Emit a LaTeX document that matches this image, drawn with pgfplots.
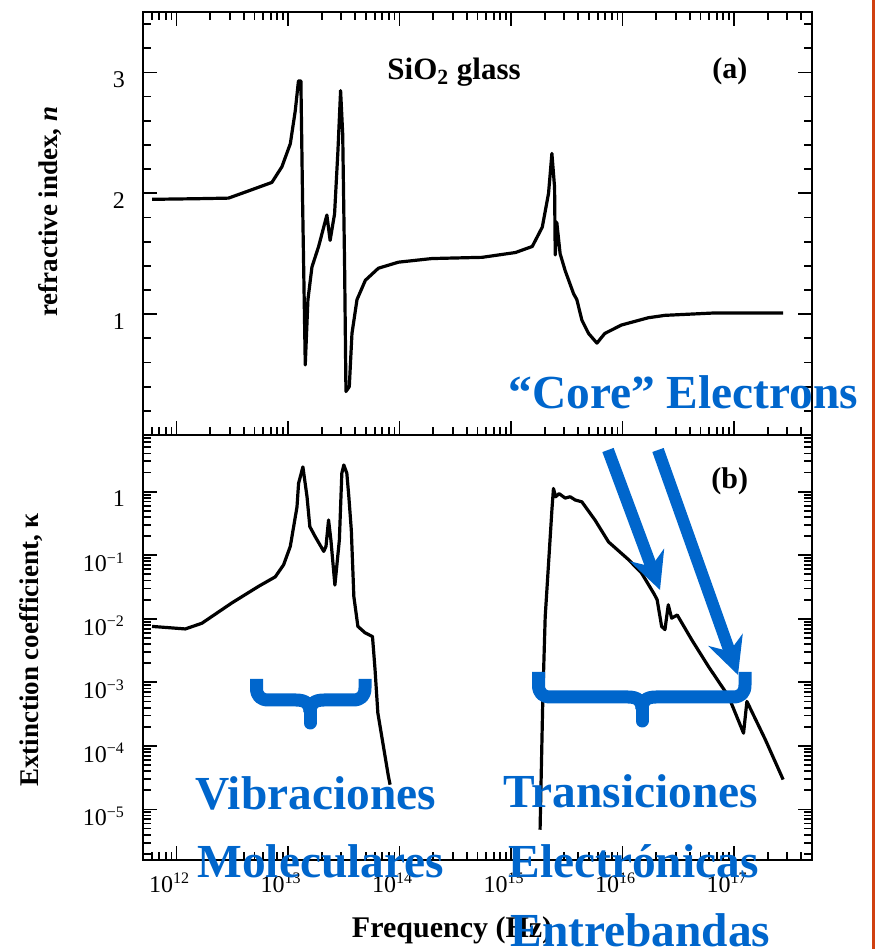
\documentclass[border=0pt]{standalone}
\usepackage{fontspec}
\setmainfont{Liberation Serif}
\usepackage{pgfplots}
\usepackage{pgfplotstable}
\pgfplotsset{compat=1.18}
\usetikzlibrary{arrows.meta}

\definecolor{annblue}{RGB}{0,102,204}
\definecolor{slideframe}{RGB}{208,64,16}

% refractive index n of SiO2 glass
\pgfplotstableread{
f n
6.03e11 1.95
1.5e12 1.955
2.92e12 1.96
4.43e12 2.02
7.16e12 2.09
8.81e12 2.22
1.047e13 2.41
1.159e13 2.68
1.239e13 2.93
1.303e13 2.93
1.349e13 1.94
1.426e13 0.58
1.507e13 1.12
1.637e13 1.39
1.879e13 1.56
2.228e13 1.82
2.382e13 1.61
2.612e13 1.83
2.799e13 2.35
2.958e13 2.85
3.090e13 2.49
3.214e13 1.39
3.304e13 0.36
3.540e13 0.40
3.741e13 0.84
4.150e13 1.12
4.932e13 1.28
6.457e13 1.38
9.772e13 1.43
1.950e14 1.46
5.495e14 1.47
1.096e15 1.51
1.549e15 1.56
1.905e15 1.72
2.168e15 2.00
2.323e15 2.33
2.455e15 2.05
2.489e15 1.49
2.570e15 1.76
2.754e15 1.50
3.055e15 1.36
3.631e15 1.17
3.890e15 1.12
4.315e15 0.95
4.955e15 0.84
5.888e15 0.76
6.918e15 0.84
9.772e15 0.91
1.698e16 0.97
2.399e16 0.99
6.761e16 1.01
2.754e17 1.01
}\refindex

% extinction coefficient, vibrational band
\pgfplotstableread{
f k
6.03e11 7.59e-3
1.197e12 6.92e-3
1.687e12 8.51e-3
3.133e12 1.778e-2
5.433e12 3.236e-2
7.674e12 4.571e-2
9.12e12 7.079e-2
1.047e13 0.138
1.202e13 0.575
1.242e13 1.35
1.358e13 2.455
1.479e13 0.832
1.567e13 0.282
1.754e13 0.195
2.089e13 0.115
2.188e13 0.138
2.307e13 0.359
2.421e13 0.174
2.630e13 3.39e-2
2.884e13 0.174
3.034e13 1.95
3.162e13 2.630
3.365e13 1.95
3.508e13 0.832
3.690e13 0.251
3.890e13 2.239e-2
4.227e13 7.59e-3
4.898e13 6.03e-3
5.715e13 5.25e-3
6.026e13 1.585e-3
6.383e13 3.31e-4
6.918e13 1.413e-4
7.943e13 3.31e-5
8.222e13 2.455e-5
}\kappavib

% extinction coefficient, electronic band
\pgfplotstableread{
f k
1.820e15 4.79e-6
1.928e15 6.03e-4
2.023e15 1.072e-2
2.168e15 7.41e-2
2.323e15 0.513
2.399e15 1.122
2.512e15 0.832
2.692e15 0.933
3.055e15 0.794
3.388e15 0.832
3.758e15 0.741
4.315e15 0.692
5.675e15 0.355
7.482e15 0.162
1.132e16 8.51e-2
1.479e16 5.25e-2
1.905e16 2.512e-2
2.042e16 1.995e-2
2.239e16 7.59e-3
2.399e16 6.76e-3
2.570e16 1.66e-2
2.754e16 1.023e-2
3.090e16 1.148e-2
4.169e16 4.68e-3
5.888e16 1.778e-3
8.913e16 6.03e-4
1.216e17 1.585e-4
1.303e17 5.01e-4
1.905e17 1.259e-4
2.754e17 2.951e-5
}\kappaele

% thick curly brace opening upwards: xl xm xr ytop ybar ytip (pixel units, y down)
\newcommand{\upbrace}[6]{%
  \draw[annblue, line width=6.5pt, line cap=butt, line join=round]
    (#1,#4) -- (#1,#5-12) .. controls (#1,#5-4) and (#1+4,#5) .. (#1+12,#5)
    -- (#2-14,#5) .. controls (#2-4,#5) and (#2,#5+4) .. (#2,#5+12);
  \draw[annblue, line width=6.5pt, line cap=butt, line join=round]
    (#3,#4) -- (#3,#5-12) .. controls (#3,#5-4) and (#3-4,#5) .. (#3-12,#5)
    -- (#2+14,#5) .. controls (#2+4,#5) and (#2,#5+4) .. (#2,#5+12);
  \draw[annblue, line width=6.5pt, line cap=round] (#2,#5+10) -- (#2,#6);
}

\begin{document}
\begin{tikzpicture}
\useasboundingbox (0,0) rectangle (437.5pt,474.5pt);

% (a) refractive index
\begin{axis}[
  xmode=log, scale only axis, width=334.5pt, height=211.5pt,
  at={(71.5pt,257pt)}, anchor=south west,
  xmin=5e11, xmax=5e17,
  xtick={1e12,1e13,1e14,1e15,1e16,1e17},
  minor xtick={6e11,7e11,8e11,9e11,2e12,3e12,4e12,5e12,6e12,7e12,8e12,9e12,2e13,3e13,4e13,5e13,6e13,7e13,8e13,9e13,2e14,3e14,4e14,5e14,6e14,7e14,8e14,9e14,2e15,3e15,4e15,5e15,6e15,7e15,8e15,9e15,2e16,3e16,4e16,5e16,6e16,7e16,8e16,9e16,2e17,3e17,4e17},
  xticklabels={},
  axis line style={line width=1.1pt},
  every tick/.style={line width=0.9pt, black},
  major tick length=7pt, minor tick length=4pt,
  tick label style={font=\fontsize{12}{14}\selectfont},
  yticklabel style={xshift=-5.5pt, yshift=-3.5pt},
  ymin=0, ymax=3.5,
  ytick={1,2,3}, yticklabels={1,2,3},
  minor ytick={0.2,0.4,0.6,0.8,1.2,1.4,1.6,1.8,2.2,2.4,2.6,2.8,3.2,3.4},
  ylabel={refractive index, \textit{n}},
  every axis y label/.style={at={(axis description cs:-0.139,0.528)}, rotate=90, anchor=center,
    font=\bfseries\fontsize{13.5}{16}\selectfont},
]
\addplot[black, line width=1.6pt, line join=round] table[x=f, y=n] {\refindex};
\end{axis}

% (b) extinction coefficient
\begin{axis}[
  xmode=log, ymode=log, scale only axis, width=334.5pt, height=212.5pt,
  at={(71.5pt,44.5pt)}, anchor=south west,
  xmin=5e11, xmax=5e17,
  ymin=1.6e-6, ymax=7.8,
  axis line style={line width=1.1pt},
  every tick/.style={line width=0.9pt, black},
  major tick length=7pt, minor tick length=4pt,
  tick label style={font=\fontsize{12}{14}\selectfont},
  yticklabel style={xshift=-5.5pt, yshift=-3.5pt},
  ytick={1e-5,1e-4,1e-3,1e-2,1e-1,1},
  minor ytick={2e-6,3e-6,4e-6,5e-6,6e-6,7e-6,8e-6,9e-6,2e-5,3e-5,4e-5,5e-5,6e-5,7e-5,8e-5,9e-5,2e-4,3e-4,4e-4,5e-4,6e-4,7e-4,8e-4,9e-4,2e-3,3e-3,4e-3,5e-3,6e-3,7e-3,8e-3,9e-3,2e-2,3e-2,4e-2,5e-2,6e-2,7e-2,8e-2,9e-2,0.2,0.3,0.4,0.5,0.6,0.7,0.8,0.9,2,3,4,5,6,7},
  yticklabels={10\textsuperscript{−5},10\textsuperscript{−4},10\textsuperscript{−3},10\textsuperscript{−2},10\textsuperscript{−1},1},
  xtick pos=left,
  xtick={1e12,1e13,1e14,1e15,1e16,1e17},
  minor xtick={6e11,7e11,8e11,9e11,2e12,3e12,4e12,5e12,6e12,7e12,8e12,9e12,2e13,3e13,4e13,5e13,6e13,7e13,8e13,9e13,2e14,3e14,4e14,5e14,6e14,7e14,8e14,9e14,2e15,3e15,4e15,5e15,6e15,7e15,8e15,9e15,2e16,3e16,4e16,5e16,6e16,7e16,8e16,9e16,2e17,3e17,4e17},
  xticklabels={10\textsuperscript{12},10\textsuperscript{13},10\textsuperscript{14},10\textsuperscript{15},10\textsuperscript{16},10\textsuperscript{17}},
  xticklabel style={xshift=-3.5pt, yshift=-3pt},
  xlabel={Frequency (Hz)},
  every axis x label/.style={at={(axis description cs:0.462,-0.165)}, anchor=center,
    font=\bfseries\fontsize{15}{18}\selectfont},
  ylabel={Extinction coefficient, κ},
  every axis y label/.style={at={(axis description cs:-0.167,0.494)}, rotate=90, anchor=center,
    font=\bfseries\fontsize{13.5}{16}\selectfont},
]
\addplot[black, line width=1.6pt, line join=round] table[x=f, y=k] {\kappavib};
\addplot[black, line width=1.6pt, line join=round] table[x=f, y=k] {\kappaele};
\end{axis}

% panel captions and annotations, in pixel units measured from the top left
\begin{scope}[x=0.5pt, y=-0.5pt, shift={(0,474.5pt)}]
  \node[anchor=base west, inner sep=0pt, font=\bfseries\fontsize{15.5}{18}\selectfont] at (387,80) {SiO\textsubscript{2} glass};
  \node[anchor=base west, inner sep=0pt, font=\bfseries\fontsize{15}{18}\selectfont] at (712,79) {(a)};
  \node[anchor=base west, inner sep=0pt, font=\bfseries\fontsize{15}{18}\selectfont] at (711,489) {(b)};

  \upbrace{256.5}{310}{365}{679}{700}{723}
  \upbrace{538.5}{642}{745}{672}{697}{721}

  \draw[annblue, line width=6pt, -{Stealth[length=18.5pt, width=18pt, inset=6pt]}] (608,450) -- (660,590);
  \draw[annblue, line width=6pt, -{Stealth[length=18.5pt, width=18pt, inset=6pt]}] (658,450) -- (738,675);

  \begin{scope}[every node/.style={annblue, anchor=base west, inner sep=0pt,
      font=\bfseries\fontsize{23.7}{28}\selectfont}]
    \node at (508,409) {“Core” Electrons};
    \node at (195,810) {Vibraciones};
    \node at (197,878) {Moleculares};
    \node at (503,808) {Transiciones};
    \node at (508,878) {Electrónicas};
    \node at (510,946) {Entrebandas};
  \end{scope}

  \draw[slideframe, line width=1.25pt] (873.7,0) -- (873.7,949);
\end{scope}
\end{tikzpicture}
\end{document}
